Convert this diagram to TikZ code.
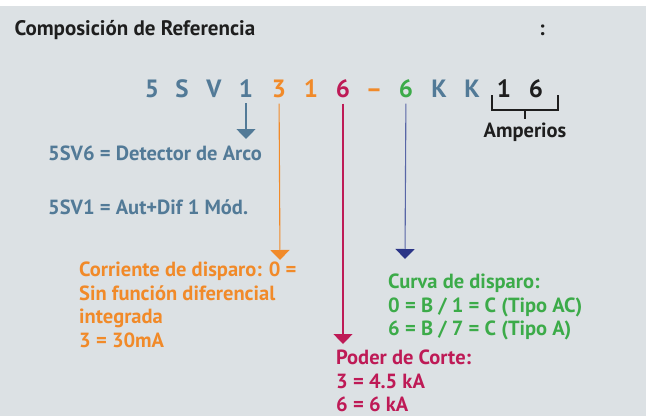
\documentclass[tikz,border=0pt]{standalone}
\usepackage{fontspec}
\setmainfont{PT Sans}
\usetikzlibrary{arrows.meta}
\definecolor{Back}{HTML}{DCE1E4}
\definecolor{SVBlue}{HTML}{527A97}
\definecolor{Orng}{HTML}{F18A29}
\definecolor{Crim}{HTML}{BE1A56}
\definecolor{Grn}{HTML}{3CAB49}
\definecolor{NavyHead}{HTML}{2B3587}
\definecolor{NavyLine}{HTML}{5866A6}
\definecolor{Dark}{HTML}{1E1E1E}

\begin{document}
\begin{tikzpicture}[
  x=1pt, y=-1pt,
  font=\bfseries\fontsize{20.5}{23.5}\selectfont,
  digit/.style={font=\bfseries\fontsize{25}{25}\selectfont,inner sep=0pt,anchor=base},
  info/.style={align=left,inner sep=0pt},
  arr/.style={line width=1.1pt,shorten <=6pt,-{Triangle[length=10pt,width=19pt]}},
  brk/.style={line width=1.3pt,draw=Dark}]

\fill[Back] (0,6) rectangle (646,416);
\useasboundingbox (0,0) rectangle (646,416);

\node[anchor=base west,text=Dark,font=\bfseries\fontsize{21}{21}\selectfont] (title) at (11,35) {Composición de Referencia};
\node[anchor=base,text=Dark,font=\bfseries\fontsize{21}{21}\selectfont] (colon) at (542,35) {:};

\foreach \ch/\xx/\col [count=\i] in {5/152/SVBlue,S/182/SVBlue,V/214/SVBlue,1/246/SVBlue,
    3/279/Orng,1/311/Orng,6/343/Crim,{--}/374/Orng,6/406/Grn,K/439/SVBlue,K/472/SVBlue,
    1/504/Dark,6/536/Dark}
  \node[digit,text=\col] (c\i) at (\xx,97) {\ch};

\draw[brk] (492,95) -- (492,110) -- (558,110) -- (558,95);
\node[anchor=base,text=Dark] (amp) at (525,137) {Amperios};
\draw[brk] (525,110) -- (amp.north);

\coordinate (tSV) at (246,139);
\coordinate (tOr) at (280,260);
\coordinate (tCr) at (343,344);
\coordinate (tNv) at (405,259);

\draw[arr,draw=SVBlue,line width=1.5pt] (c4) -- (tSV);
\draw[arr,draw=Orng] (c5) -- (tOr);
\draw[arr,draw=Crim] (c7) -- (tCr);
\draw[arr,draw=NavyLine,-{Triangle[length=10pt,width=19pt,color=NavyHead]}] (c9) -- (tNv);

\node[info,anchor=base west,text=SVBlue] (arco) at (48,160) {5SV6 = Detector de Arco};
\node[info,anchor=base west,text=SVBlue] (aut) at (48,214) {5SV1 = Aut+Dif 1 Mód.};

\node[info,anchor=north west,text=Orng] (corr) at (79,262)
  {Corriente de disparo: 0 =\\Sin función diferencial\\integrada\\3 = 30mA};
\node[info,anchor=north west,text=Grn] (curva) at (388,274)
  {Curva de disparo:\\0 = B / 1 = C (Tipo AC)\\6 = B / 7 = C (Tipo A)};
\node[info,anchor=north west,text=Crim] (poder) at (336,350)
  {Poder de Corte:\\3 = 4.5 kA\\6 = 6 kA};
\end{tikzpicture}
\end{document}
